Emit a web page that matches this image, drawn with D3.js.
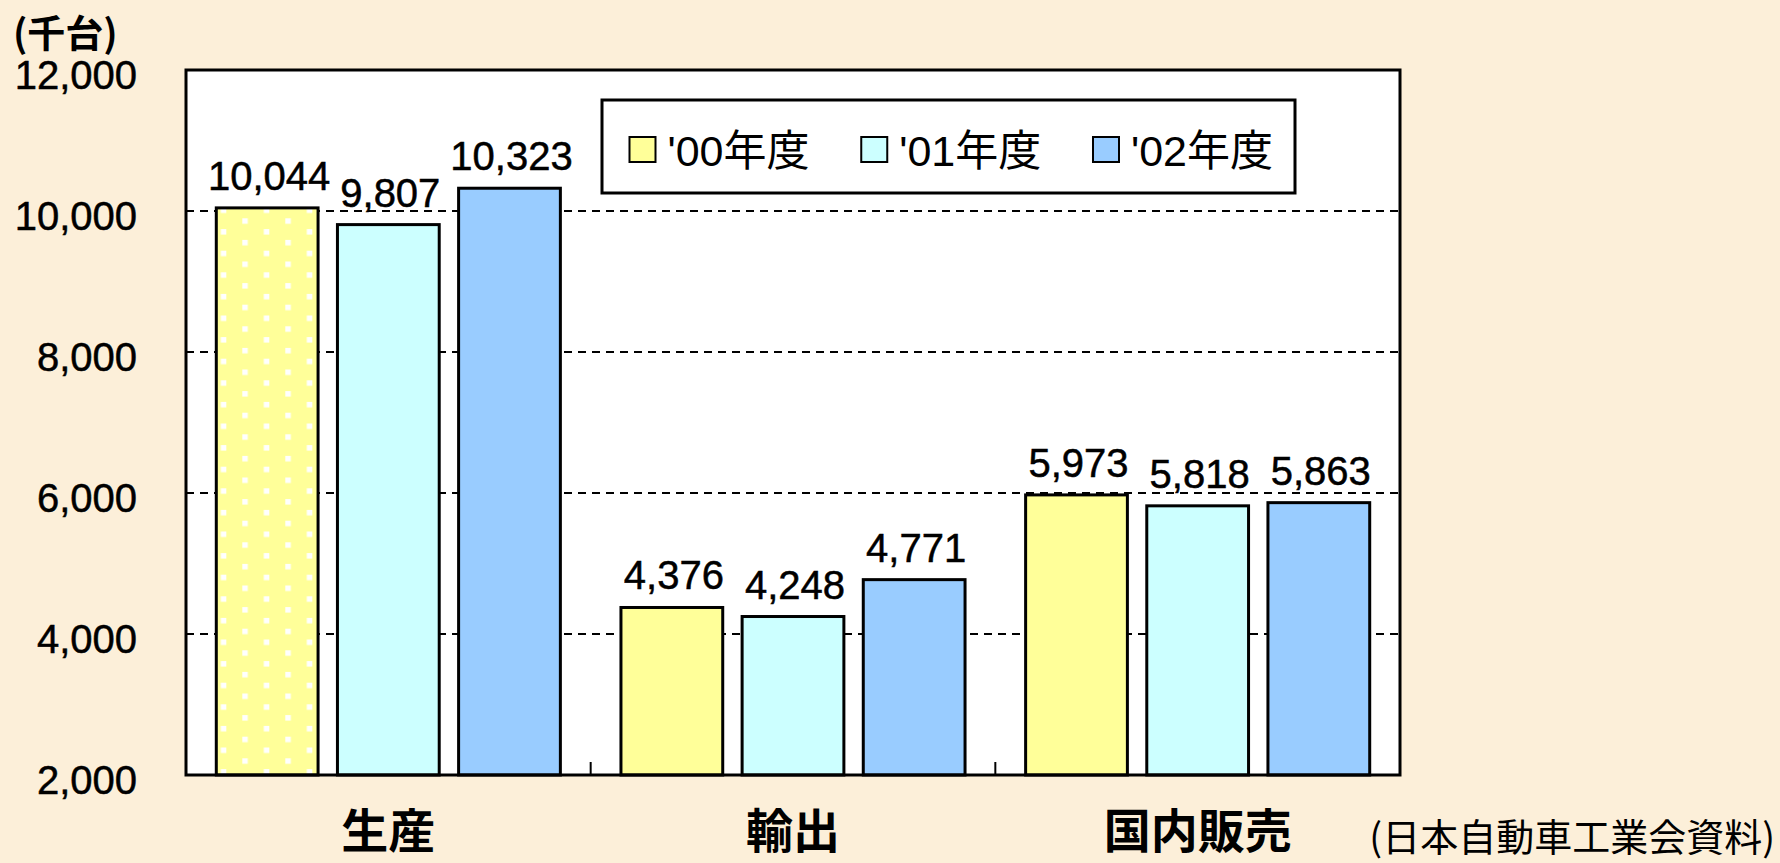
<!DOCTYPE html>
<html>
<head>
<meta charset="utf-8">
<script src="https://cdn.jsdelivr.net/npm/d3@7"></script>
<style>
  html, body { margin: 0; padding: 0; background: #FCEFD9; }
  svg { display: block; }
</style>
</head>
<body>
<svg id="chart" width="1780" height="863"></svg>
<script>
// ---- data ----
const categories = ["生産", "輸出", "国内販売"];
const seriesNames = ["'00年度", "'01年度", "'02年度"];
const values00 = [10044, 4376, 5973];
const values01 = [9807, 4248, 5818];
const values02 = [10323, 4771, 5863];
const yTicks = [2000, 4000, 6000, 8000, 10000, 12000];
const gridTicks = [4000, 6000, 8000, 10000];
const seriesColors = ["#FFFF99", "#CCFFFF", "#99CCFF"];
const unitLabel = "(千台)";
const sourceLabel = "(日本自動車工業会資料)";

const series = [values00, values01, values02];

// ---- layout ----
const W = 1780, H = 863;
const plot = { left: 186, right: 1400, top: 70, bottom: 775 };
const svg = d3.select("#chart");
const latin = "'Liberation Sans', Arial, 'Noto Sans CJK JP', sans-serif";
const cjk = "'Noto Sans CJK JP', 'Liberation Sans', sans-serif";

// background
svg.append("rect").attr("width", W).attr("height", H).attr("fill", "#FCEFD9");

const y = d3.scaleLinear().domain([2000, 12000]).range([plot.bottom, plot.top]);
const x0 = d3.scaleBand().domain(categories).range([plot.left, plot.right]).paddingInner(0).paddingOuter(0);
const x1 = d3.scaleBand().domain(d3.range(seriesNames.length)).range([0, x0.bandwidth()]).paddingInner(0.16).paddingOuter(0.25);

// pattern for dotted bar
const defs = svg.append("defs");
const pat = defs.append("pattern").attr("id", "dots")
  .attr("patternUnits", "userSpaceOnUse")
  .attr("x", 228.3).attr("y", 218.3)
  .attr("width", 43).attr("height", 21.6);
pat.append("rect").attr("width", 43).attr("height", 21.6).attr("fill", seriesColors[0]);
pat.append("rect").attr("x", 0).attr("y", 0).attr("width", 5.5).attr("height", 5.5).attr("fill", "#fff");
pat.append("rect").attr("x", 21.5).attr("y", 10.8).attr("width", 5.5).attr("height", 5.5).attr("fill", "#fff");

// plot background
svg.append("rect")
  .attr("x", plot.left).attr("y", plot.top)
  .attr("width", plot.right - plot.left).attr("height", plot.bottom - plot.top)
  .attr("fill", "#fff");

// gridlines
svg.append("g").selectAll("line").data(gridTicks).join("line")
  .attr("x1", plot.left).attr("x2", plot.right)
  .attr("y1", d => y(d)).attr("y2", d => y(d))
  .attr("stroke", "#000").attr("stroke-width", 2.2)
  .attr("stroke-dasharray", "8,6");

// bars
const groups = svg.append("g").selectAll("g").data(categories).join("g")
  .attr("transform", d => `translate(${x0(d)},0)`);

groups.each(function(cat, ci) {
  const g = d3.select(this);
  series.forEach((vals, si) => {
    const v = vals[ci];
    g.append("rect")
      .attr("x", x1(si)).attr("y", y(v))
      .attr("width", x1.bandwidth()).attr("height", y(2000) - y(v))
      .attr("fill", (ci === 0 && si === 0) ? "url(#dots)" : seriesColors[si])
      .attr("stroke", "#000").attr("stroke-width", 3);
    g.append("text")
      .attr("x", x1(si) + x1.bandwidth() / 2 + 2)
      .attr("y", y(v) - 18)
      .attr("text-anchor", "middle")
      .attr("font-family", latin).attr("font-size", 40)
      .attr("fill", "#000").attr("stroke", "#000").attr("stroke-width", 0.5)
      .text(d3.format(",")(v));
  });
});

// plot frame
svg.append("rect")
  .attr("x", plot.left).attr("y", plot.top)
  .attr("width", plot.right - plot.left).attr("height", plot.bottom - plot.top)
  .attr("fill", "none").attr("stroke", "#000").attr("stroke-width", 3);

// category separator ticks
svg.append("g").selectAll("line").data(categories.slice(1)).join("line")
  .attr("x1", d => x0(d)).attr("x2", d => x0(d))
  .attr("y1", plot.bottom).attr("y2", plot.bottom - 13)
  .attr("stroke", "#000").attr("stroke-width", 2);

// y tick labels
svg.append("g").selectAll("text").data(yTicks).join("text")
  .attr("x", 137).attr("y", d => y(d) + 19)
  .attr("text-anchor", "end")
  .attr("font-family", latin).attr("font-size", 40)
  .attr("fill", "#000").attr("stroke", "#000").attr("stroke-width", 0.5)
  .text(d => d3.format(",")(d));

// unit label
svg.append("text")
  .attr("x", 13).attr("y", 47)
  .attr("font-family", cjk).attr("font-size", 38).attr("font-weight", "bold")
  .attr("fill", "#000")
  .text(unitLabel);

// category labels
svg.append("g").selectAll("text").data(categories).join("text")
  .attr("x", d => x0(d) + x0.bandwidth() / 2)
  .attr("y", 848)
  .attr("text-anchor", "middle")
  .attr("font-family", cjk).attr("font-size", 47).attr("font-weight", "bold")
  .attr("fill", "#000")
  .text(d => d);

// source label
svg.append("text")
  .attr("x", 1775).attr("y", 851)
  .attr("text-anchor", "end")
  .attr("font-family", cjk).attr("font-size", 38)
  .attr("fill", "#000")
  .text(sourceLabel);

// legend
const legend = svg.append("g");
legend.append("rect")
  .attr("x", 602).attr("y", 100).attr("width", 693).attr("height", 93)
  .attr("fill", "#fff").attr("stroke", "#000").attr("stroke-width", 3);
const legendX = d3.scalePoint().domain(d3.range(seriesNames.length)).range([629.5, 1093]);
seriesNames.forEach((name, i) => {
  const lx = legendX(i);
  legend.append("rect")
    .attr("x", lx).attr("y", 137).attr("width", 26).attr("height", 25)
    .attr("fill", seriesColors[i]).attr("stroke", "#000").attr("stroke-width", 2);
  legend.append("text")
    .attr("x", lx + 38).attr("y", 166)
    .attr("font-family", latin).attr("font-size", 43)
    .attr("fill", "#000")
    .text(name);
});
</script>
</body>
</html>
